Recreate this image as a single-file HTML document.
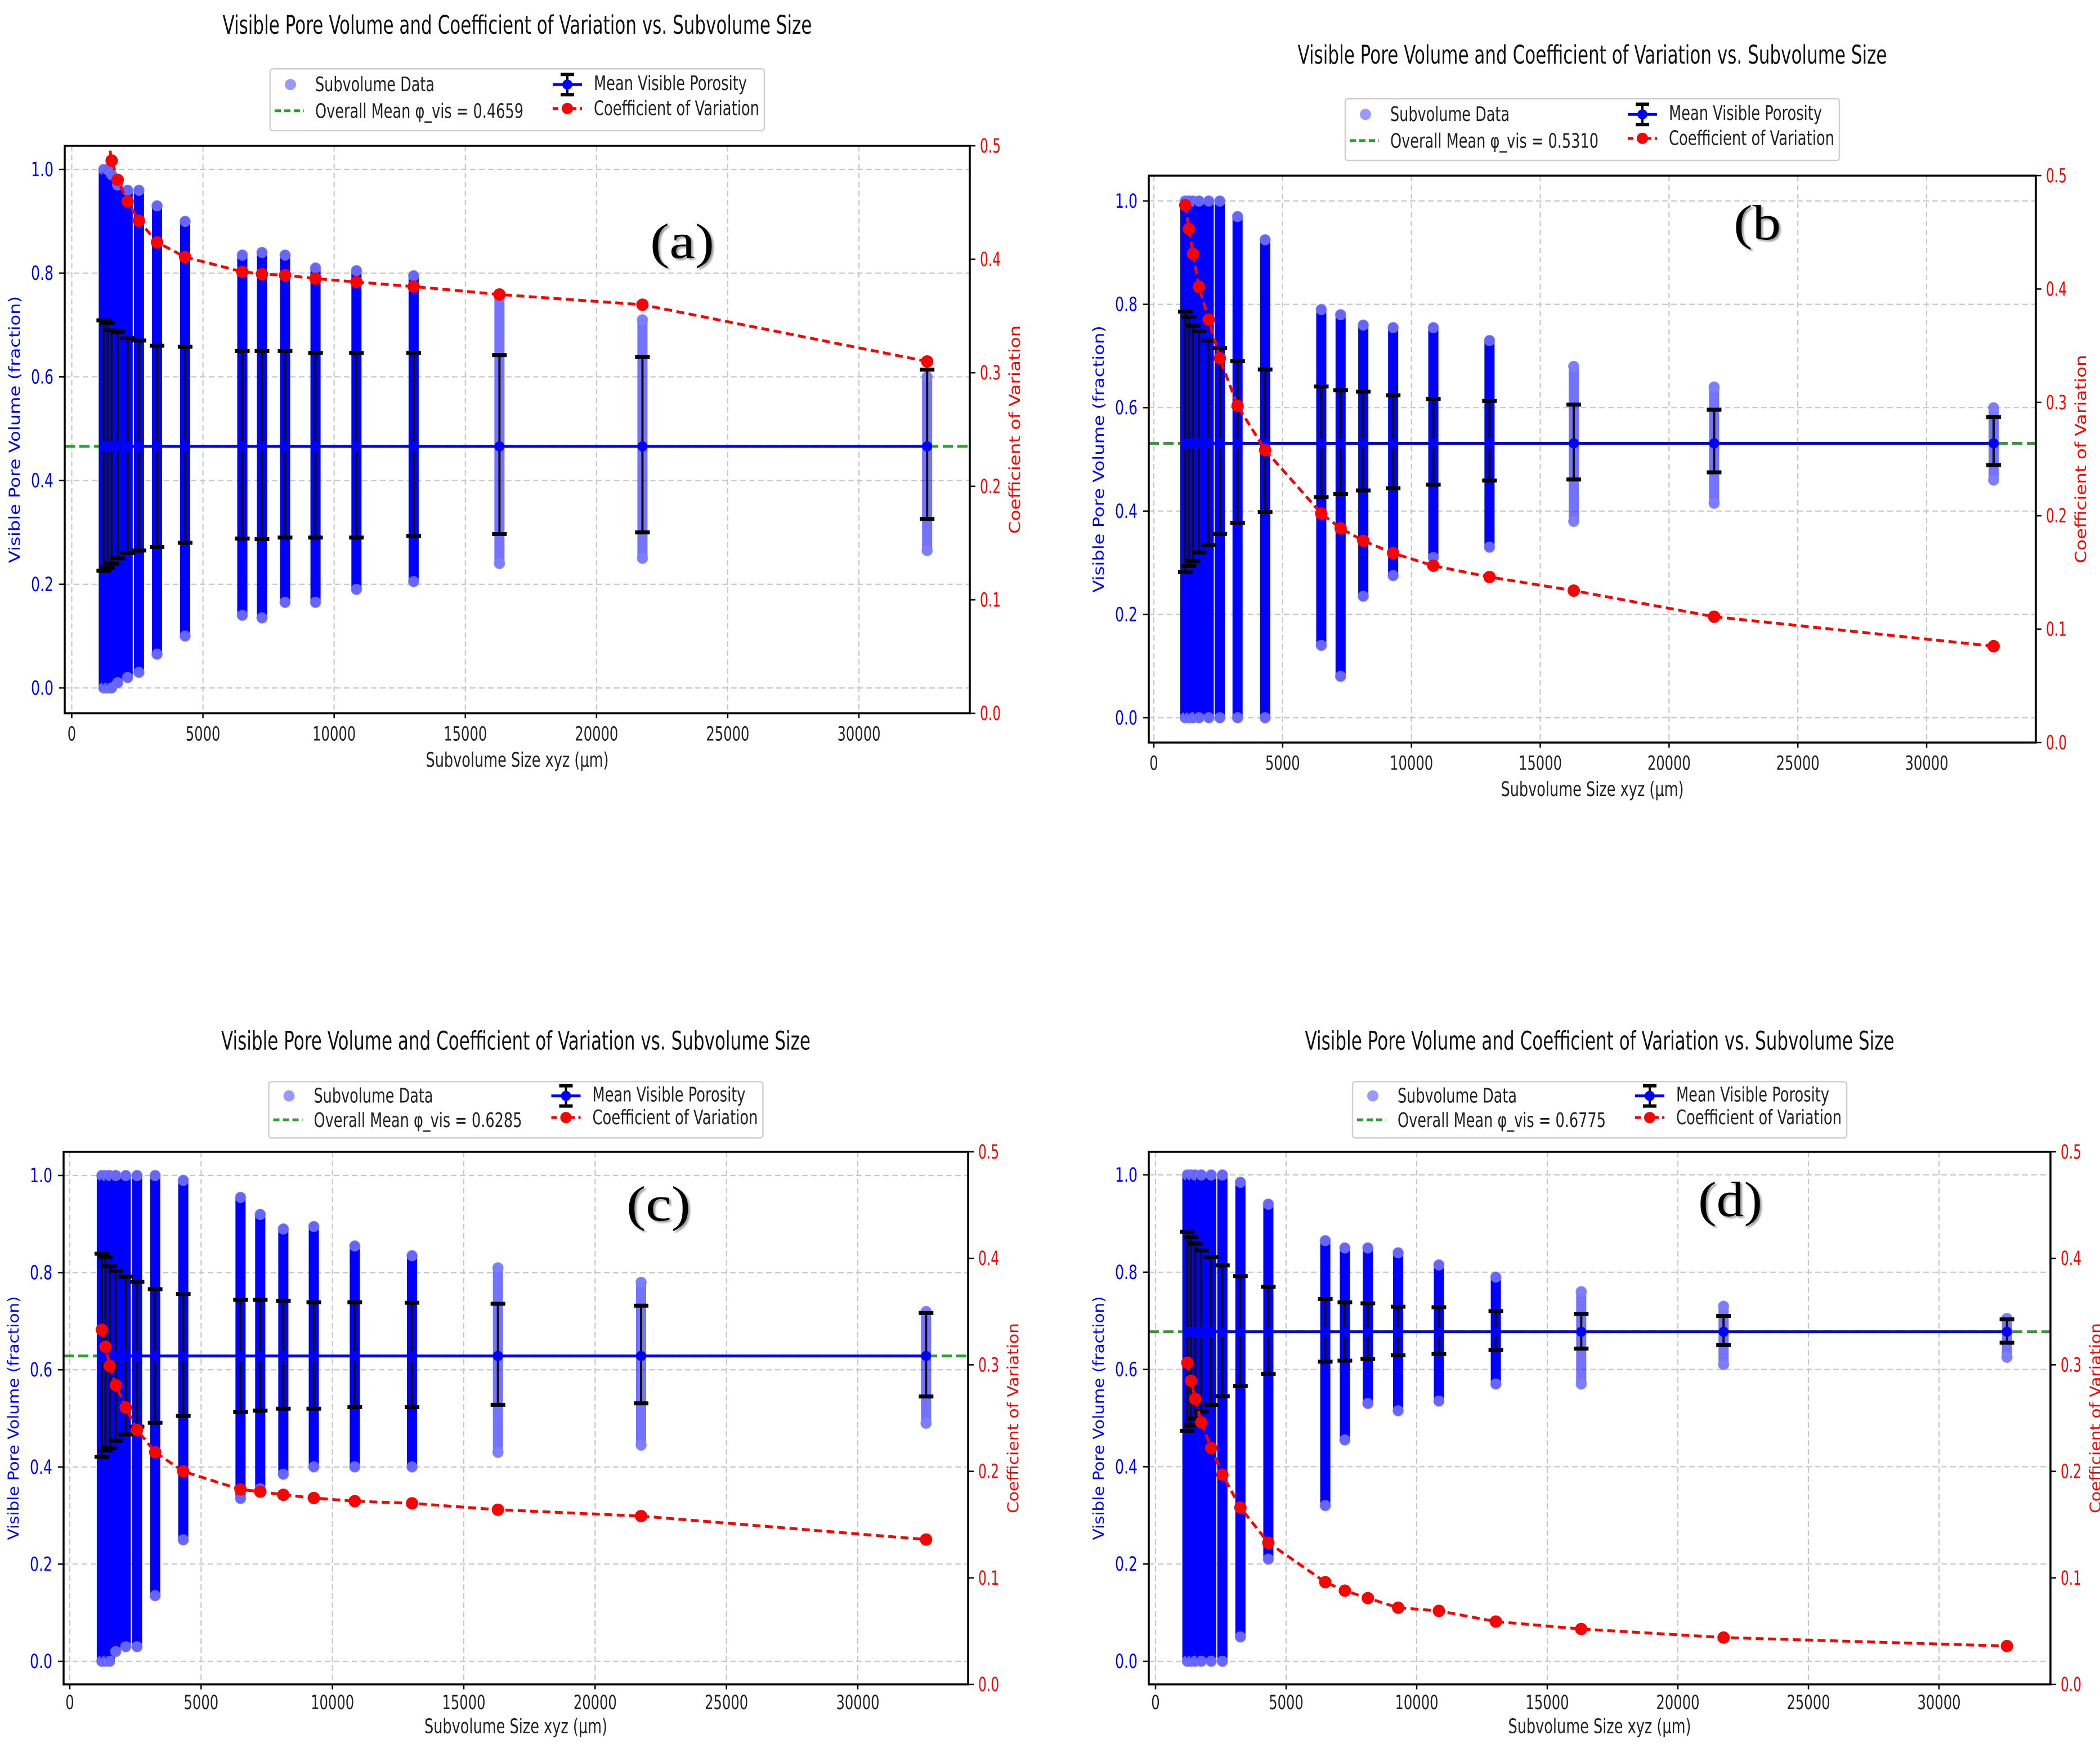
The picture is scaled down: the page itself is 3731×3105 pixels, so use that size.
<!DOCTYPE html>
<html><head><meta charset="utf-8"><style>
html,body{margin:0;padding:0;background:#fff;}
svg{display:block;}
</style></head><body>
<svg id="fig" xmlns="http://www.w3.org/2000/svg" width="3731" height="3105" viewBox="0 0 3731 3105">
<rect x="0" y="0" width="3731" height="3105" fill="#fff"/>
</svg>
<script>
// ---------- data ----------
const sizes = [1220,1360,1520,1750,2130,2560,3250,4320,6500,7250,8130,9290,10850,13030,16300,21750,32600];
const xTicks = [0,5000,10000,15000,20000,25000,30000];
const xTickLabels = ["0","5000","10000","15000","20000","25000","30000"];
const yTicks = [0,0.2,0.4,0.6,0.8,1.0];
const yTickLabels = ["0.0","0.2","0.4","0.6","0.8","1.0"];
const cvTicks = [0,0.1,0.2,0.3,0.4,0.5];
const cvTickLabels = ["0.0","0.1","0.2","0.3","0.4","0.5"];

const meanA = 0.4659, meanB = 0.5310, meanC = 0.6285, meanD = 0.6775;
const meanLabelA = "0.4659", meanLabelB = "0.5310", meanLabelC = "0.6285", meanLabelD = "0.6775";

const upperA = [0.709,0.704,0.69,0.687,0.675,0.67,0.66,0.658,0.65,0.65,0.65,0.646,0.646,0.646,0.642,0.638,0.614];
const lowerA = [0.226,0.232,0.24,0.25,0.26,0.265,0.272,0.28,0.288,0.287,0.29,0.29,0.29,0.293,0.297,0.30,0.326];
const cvA = [0.55,0.51,0.487,0.47,0.451,0.434,0.415,0.402,0.389,0.387,0.386,0.383,0.380,0.376,0.369,0.360,0.310];
const maxA = [1.0,1.0,0.99,0.97,0.96,0.96,0.93,0.90,0.835,0.84,0.835,0.81,0.805,0.795,0.76,0.71,0.60];
const minA = [0,0,0,0.01,0.02,0.03,0.065,0.10,0.14,0.135,0.165,0.165,0.19,0.205,0.24,0.25,0.265];

const upperB = [0.786,0.776,0.759,0.748,0.73,0.715,0.69,0.674,0.641,0.634,0.631,0.624,0.617,0.613,0.606,0.596,0.582];
const lowerB = [0.282,0.294,0.303,0.32,0.334,0.356,0.377,0.398,0.427,0.433,0.44,0.444,0.451,0.459,0.461,0.475,0.489];
const cvB = [0.474,0.453,0.431,0.402,0.373,0.339,0.297,0.258,0.202,0.189,0.178,0.167,0.156,0.146,0.134,0.111,0.085];
const maxB = [1,1,1,1,1,1,0.97,0.925,0.79,0.78,0.76,0.755,0.755,0.73,0.68,0.64,0.60];
const minB = [0,0,0,0,0,0,0,0,0.14,0.08,0.235,0.275,0.31,0.33,0.38,0.415,0.46];

const upperC = [0.839,0.832,0.814,0.804,0.792,0.781,0.766,0.756,0.744,0.744,0.742,0.739,0.739,0.738,0.736,0.732,0.717];
const lowerC = [0.421,0.434,0.439,0.454,0.467,0.483,0.491,0.505,0.513,0.516,0.52,0.52,0.523,0.523,0.528,0.531,0.545];
const cvC = [0.333,0.317,0.299,0.281,0.260,0.239,0.218,0.200,0.183,0.181,0.178,0.175,0.172,0.170,0.164,0.158,0.136];
const maxC = [1,1,1,1,1,1,1.0,0.99,0.955,0.92,0.89,0.895,0.855,0.835,0.81,0.78,0.72];
const minC = [0,0,0,0.02,0.03,0.03,0.135,0.25,0.335,0.355,0.385,0.40,0.40,0.40,0.43,0.445,0.49];

const upperD = [0.883,0.872,0.859,0.845,0.831,0.814,0.792,0.77,0.745,0.738,0.736,0.729,0.728,0.72,0.714,0.71,0.703];
const lowerD = [0.474,0.485,0.499,0.513,0.527,0.545,0.566,0.591,0.616,0.618,0.622,0.629,0.632,0.64,0.643,0.65,0.655];
const cvD = [0.302,0.285,0.268,0.246,0.222,0.197,0.166,0.133,0.096,0.088,0.081,0.072,0.069,0.059,0.052,0.044,0.036];
const maxD = [1,1,1,1,1,1,0.985,0.94,0.865,0.85,0.85,0.84,0.815,0.79,0.76,0.73,0.705];
const minD = [0,0,0,0,0,0,0.05,0.21,0.32,0.455,0.53,0.515,0.535,0.57,0.57,0.61,0.625];

// ---------- layout (pixels) ----------
const panels = [
 {id:'a', tag:'(a)', fy:0.93, L:115, R:1723, T:259, B:1267, x0:127.5, x30:1526, y0:1222, y1:301, tagX:1155, tagY:458,
  mean:meanA, meanLabel:meanLabelA, up:upperA, lo:lowerA, cv:cvA, mx:maxA, mn:minA},
 {id:'b', tag:'(b', fy:0.93, L:2041, R:3617, T:312, B:1319, x0:2050, x30:3423, y0:1275, y1:357, tagX:3080, tagY:425,
  mean:meanB, meanLabel:meanLabelB, up:upperB, lo:lowerB, cv:cvB, mx:maxB, mn:minB},
 {id:'c', tag:'(c)', fy:0.849, L:113, R:1720, T:2046, B:2992, x0:124, x30:1524, y0:2951, y1:2088, tagX:1113, tagY:2168,
  mean:meanC, meanLabel:meanLabelC, up:upperC, lo:lowerC, cv:cvC, mx:maxC, mn:minC},
 {id:'d', tag:'(d)', fy:0.849, L:2041, R:3643, T:2046, B:2992, x0:2053, x30:3445, y0:2951, y1:2087, tagX:3017, tagY:2160,
  mean:meanD, meanLabel:meanLabelD, up:upperD, lo:lowerD, cv:cvD, mx:maxD, mn:minD}
];

const NS = 'http://www.w3.org/2000/svg';
const fig = document.getElementById('fig');
function mk(tag, attrs, parent){
  const e = document.createElementNS(NS, tag);
  for (const k in attrs) e.setAttribute(k, attrs[k]);
  (parent||fig).appendChild(e);
  return e;
}
function txt(parent, s, x, y, size, fill, anchor, len, extra){
  const a = {x:x, y:y, 'font-size':size, fill:fill, 'text-anchor':anchor||'start',
    'font-family':'"DejaVu Sans","Liberation Sans",sans-serif'};
  if (len){ a.textLength = len; a.lengthAdjust = 'spacingAndGlyphs'; }
  if (extra) for (const k in extra) a[k]=extra[k];
  const t = mk('text', a, parent);
  t.textContent = s;
  return t;
}

panels.forEach(p => {
  const g = mk('g', {});
  
  
  const fy = p.fy;
  const sx = v => p.x0 + v/30000*(p.x30 - p.x0);
  const sy = v => p.y0 + v*(p.y1 - p.y0);
  const sc = v => p.B + v/0.5*(p.T - p.B);
  const cx = (p.L + p.R)/2, cy = (p.T + p.B)/2;

  // title
  const title = txt(g, 'Visible Pore Volume and Coefficient of Variation vs. Subvolume Size', cx, p.T-214*fy, 45, '#111', 'middle', 1047);
  
  

  const cp = mk('clipPath', {id:'clip-'+p.id}, g);
  mk('rect', {x:p.L, y:p.T, width:p.R-p.L, height:p.B-p.T}, cp);

  // grid
  const grid = mk('g', {stroke:'#c8c8c8', 'stroke-width':2.2, 'stroke-dasharray':'10,6'}, g);
  
  
  xTicks.forEach(v => mk('line', {x1:sx(v), x2:sx(v), y1:p.T, y2:p.B}, grid));
  yTicks.forEach(v => mk('line', {x1:p.L, x2:p.R, y1:sy(v), y2:sy(v)}, grid));

  const plot = mk('g', {'clip-path':'url(#clip-'+p.id+')'}, g);

  // scatter columns
  const scat = mk('g', {}, plot);
  
  
  sizes.forEach((s, i) => {
    const x = sx(s), yt = sy(p.mx[i]), yb = sy(p.mn[i]);
    const sparse = s > 14000;
    const col = mk('rect', {x:x-9, y:yt-9, width:18, height:(yb-yt)+18, rx:9, ry:9,
      fill:'#0000ff', 'fill-opacity': sparse ? 0.55 : 1}, scat);
    
    
    const c1 = mk('circle', {cx:x, cy:yt, r:10, fill:'#8080ff', 'fill-opacity':0.8}, scat);
    
    
    const c2 = mk('circle', {cx:x, cy:yb, r:10, fill:'#8080ff', 'fill-opacity':0.8}, scat);
    
    
  });

  // overall mean line
  const ml = mk('line', {x1:p.L, x2:p.R, y1:sy(p.mean), y2:sy(p.mean), stroke:'#2ca02c', 'stroke-width':5, 'stroke-dasharray':'18,8'}, plot);
  
  

  // mean porosity line + error bars
  const mg = mk('g', {}, plot);
  
  
  let d = '';
  sizes.forEach((s,i) => { d += (i?'L':'M') + sx(s) + ',' + sy(p.mean) + ' '; });
  mk('path', {d:d, fill:'none', stroke:'#0000ff', 'stroke-width':5}, mg);
  sizes.forEach((s,i) => {
    const x = sx(s);
    const eb = mk('g', {}, mg);
    
    
    mk('line', {x1:x, x2:x, y1:sy(p.up[i]), y2:sy(p.lo[i]), stroke:'#111', 'stroke-width':4}, eb);
    mk('line', {x1:x-13, x2:x+13, y1:sy(p.up[i]), y2:sy(p.up[i]), stroke:'#000', 'stroke-width':7}, eb);
    mk('line', {x1:x-13, x2:x+13, y1:sy(p.lo[i]), y2:sy(p.lo[i]), stroke:'#000', 'stroke-width':7}, eb);
    const m = mk('circle', {cx:x, cy:sy(p.mean), r:9, fill:'#0000ff'}, eb);
    
    
  });

  // CV line
  const cg = mk('g', {}, plot);
  
  
  let d2 = '';
  sizes.forEach((s,i) => { d2 += (i?'L':'M') + sx(s) + ',' + sc(p.cv[i]) + ' '; });
  mk('path', {d:d2, fill:'none', stroke:'#ff0000', 'stroke-width':5, 'stroke-dasharray':'14,8'}, cg);
  sizes.forEach((s,i) => {
    const c = mk('circle', {cx:sx(s), cy:sc(p.cv[i]), r:11, fill:'#ff0000'}, cg);
    
    
  });

  // axes frame
  const fr = mk('rect', {x:p.L, y:p.T, width:p.R-p.L, height:p.B-p.T, fill:'none', stroke:'#000', 'stroke-width':3.5}, g);
  
  

  // x ticks
  const xa = mk('g', {}, g);
  
  
  xTicks.forEach((v,i) => {
    mk('line', {x1:sx(v), x2:sx(v), y1:p.B, y2:p.B+9, stroke:'#000', 'stroke-width':2.5}, xa);
    const t = txt(xa, xTickLabels[i], sx(v), p.B+52*fy, 35, '#222', 'middle', xTickLabels[i].length*15.4);
    
    
  });
  const xl = txt(g, 'Subvolume Size xyz (µm)', cx, p.B+102*fy, 36, '#222', 'middle', 325);
  
  

  // left y ticks
  const ya = mk('g', {}, g);
  
  
  yTicks.forEach((v,i) => {
    mk('line', {x1:p.L-10, x2:p.L, y1:sy(v), y2:sy(v), stroke:'#000', 'stroke-width':2.5}, ya);
    const t = txt(ya, yTickLabels[i], p.L-20, sy(v)+12, 35, '#0000ff', 'end', 40);
    
    
  });
  const ylx = p.L-89;
  const yl = txt(g, 'Visible Pore Volume (fraction)', ylx, cy+9, 27, '#0000ff', 'middle', 510*fy,
     {transform:'rotate(-90 '+ylx+' '+cy+')'});
  
  

  // right y ticks
  const ra = mk('g', {}, g);
  
  
  cvTicks.forEach((v,i) => {
    mk('line', {x1:p.R, x2:p.R+10, y1:sc(v), y2:sc(v), stroke:'#000', 'stroke-width':2.5}, ra);
    const t = txt(ra, cvTickLabels[i], p.R+18, sc(v)+12, 35, '#ff0000', 'start', 37);
    
    
  });
  const rlx = p.R+80;
  const rl = txt(g, 'Coefficient of Variation', rlx, cy+9, 27, '#ff0000', 'middle', 398*fy,
     {transform:'rotate(-90 '+rlx+' '+cy+')'});
  
  

  // panel tag
  const tg = mk('text', {x:p.tagX, y:p.tagY, 'font-size':88, 'font-family':'"Liberation Serif",serif', fill:'#000',
    textLength: p.tag.length===3 ? 114 : 84, lengthAdjust:'spacingAndGlyphs',
    style:'text-shadow:3px 3px 3px #999'}, g);
  tg.textContent = p.tag;
  
  

  // legend
  const bl = cx - 439, bt = p.T - 147*fy;
  const lg = mk('g', {}, g);
  
  
  mk('rect', {x:bl, y:bt, width:878, height:118*fy, rx:5, fill:'#fff', stroke:'#d0d0d0', 'stroke-width':2.5}, lg);
  const r1 = bt+30*fy, r2 = bt+80*fy;
  const e1 = mk('g', {}, lg);
  
  
  mk('circle', {cx:bl+36, cy:r1, r:10, fill:'#8080ff', 'fill-opacity':0.8}, e1);
  txt(e1, 'Subvolume Data', bl+80, r1+12, 36, '#222', 'start', 212);
  const e2 = mk('g', {}, lg);
  
  
  mk('line', {x1:bl+8, x2:bl+60, y1:r2, y2:r2, stroke:'#2ca02c', 'stroke-width':5, 'stroke-dasharray':'11,6'}, e2);
  txt(e2, 'Overall Mean φ_vis = ' + p.meanLabel, bl+80, r2+13, 36, '#222', 'start', 370);
  const e3 = mk('g', {}, lg);
  
  
  const mxp = bl+528;
  mk('line', {x1:mxp-26, x2:mxp+26, y1:r1, y2:r1, stroke:'#0000ff', 'stroke-width':5}, e3);
  mk('line', {x1:mxp, x2:mxp, y1:r1-18, y2:r1+18, stroke:'#000', 'stroke-width':4}, e3);
  mk('line', {x1:mxp-12, x2:mxp+12, y1:r1-18, y2:r1-18, stroke:'#000', 'stroke-width':6}, e3);
  mk('line', {x1:mxp-12, x2:mxp+12, y1:r1+18, y2:r1+18, stroke:'#000', 'stroke-width':6}, e3);
  mk('circle', {cx:mxp, cy:r1, r:9, fill:'#0000ff'}, e3);
  txt(e3, 'Mean Visible Porosity', bl+575, r1+10, 36, '#222', 'start', 272);
  const e4 = mk('g', {}, lg);
  
  
  mk('line', {x1:mxp-26, x2:mxp+26, y1:r2-4, y2:r2-4, stroke:'#ff0000', 'stroke-width':5, 'stroke-dasharray':'10,6'}, e4);
  mk('circle', {cx:mxp, cy:r2-4, r:10, fill:'#ff0000'}, e4);
  txt(e4, 'Coefficient of Variation', bl+575, r2+8, 36, '#222', 'start', 294);
});
</script>
</body></html>
